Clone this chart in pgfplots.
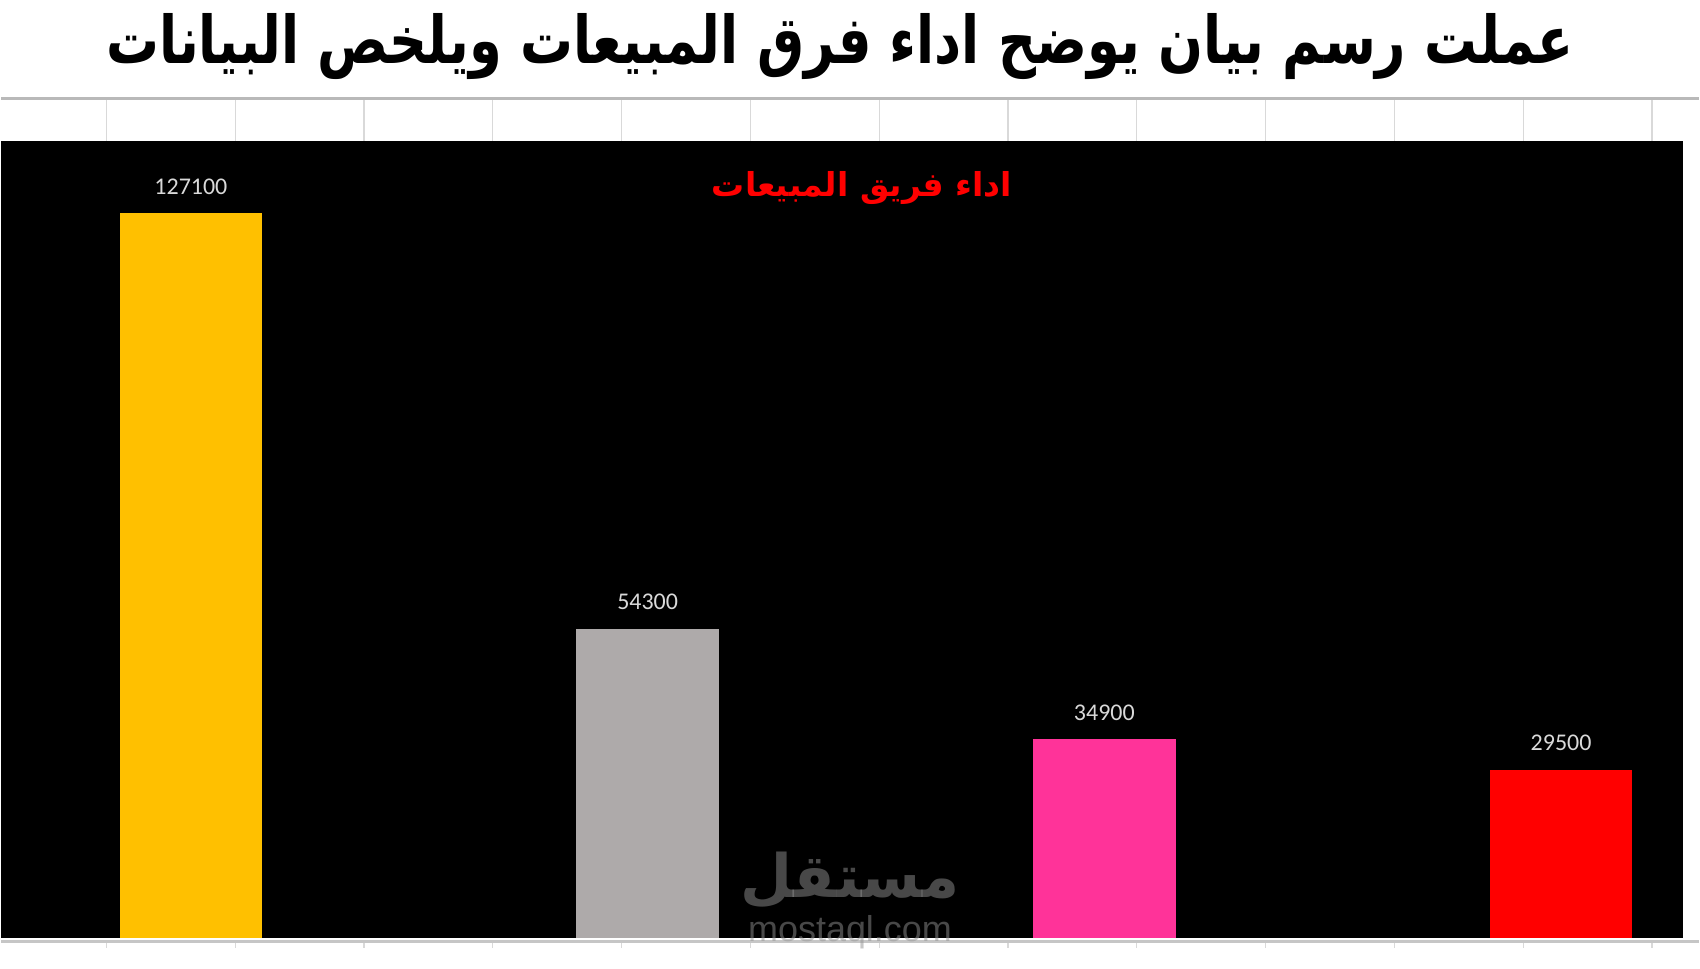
\documentclass[border=0pt]{standalone}
\usepackage{pgfplots}
\pgfplotsset{compat=1.18}
\usepackage{fontspec}
\setmainfont{Liberation Sans}
\newfontfamily\arabicfont[Script=Arabic]{DejaVu Sans}
\newfontfamily\carlito{Carlito}
\TeXXeTstate=1

\definecolor{barA}{HTML}{FFC000}
\definecolor{barB}{HTML}{AEAAAA}
\definecolor{barC}{HTML}{FF3399}
\definecolor{barD}{HTML}{FF0000}
\definecolor{lbl}{HTML}{D9D9D9}
\definecolor{gridgray}{HTML}{D9D9D9}

\begin{document}
\begin{tikzpicture}[x=1pt,y=1pt]
% page: 1700x970 px, 1 px = 0.5 pt
\fill[white] (0,0) rectangle (850,485);

% spreadsheet strip above the chart
\foreach \gx in {105.2,234.2,363.2,492.2,621.2,750.3,879.3,1008.3,1137.3,1266.3,1395.4,1524.4,1653.4}{
  \draw[gridgray, line width=0.6pt] (\gx/2,435.5) -- (\gx/2,414.5);
  \draw[gridgray, line width=0.6pt] (\gx/2,14) -- (\gx/2,10);
}
\draw[gray!55, line width=1.5pt] (0,435.5) -- (850,435.5);
\draw[gray!45, line width=1.2pt] (0,13.5) -- (850,13.5);

\begin{axis}[
    at={(0pt,15pt)}, anchor=south west,
    width=842pt, height=399.5pt,
    scale only axis,
    axis background/.style={fill=black},
    axis line style={draw=none},
    xtick=\empty, ytick=\empty,
    xmin=-0.4147, xmax=3.266,
    ymin=0, ymax=139800,
    ybar, bar width=71.5pt, bar shift=0pt,
    clip=false,
    nodes near coords={\pgfmathfloattoint{\pgfplotspointmeta}\pgfmathresult},
    every node near coord/.append style={font=\carlito\fontsize{12}{12}\selectfont,
        text=lbl, anchor=south, inner sep=0pt, yshift=9.3pt},
]
\addplot[fill=barA, draw=none] coordinates {(0,127100)};
\addplot[fill=barB, draw=none] coordinates {(1,54300)};
\addplot[fill=barC, draw=none] coordinates {(2,34900)};
\addplot[fill=barD, draw=none] coordinates {(3,29500)};
\end{axis}

% chart title
\node[text=red] at (431,391) {\arabicfont\bfseries\fontsize{16.5}{20}\selectfont\beginR اداء فريق المبيعات\endR};

% main title
\node[text=black, xscale=0.8] at (420,461.5) {\arabicfont\bfseries\fontsize{33}{38}\selectfont\beginR عملت رسم بيان يوضح اداء فرق المبيعات ويلخص البيانات\endR};

% watermark
\node[text={rgb,255:red,145;green,145;blue,145}, opacity=0.5] at (425,44) {\arabicfont\bfseries\fontsize{30}{34}\selectfont\beginR مستقل\endR};
\node[text={rgb,255:red,145;green,145;blue,145}, opacity=0.5] at (425,18) {\fontsize{18}{20}\selectfont mostaql.com};
\end{tikzpicture}
\end{document}
